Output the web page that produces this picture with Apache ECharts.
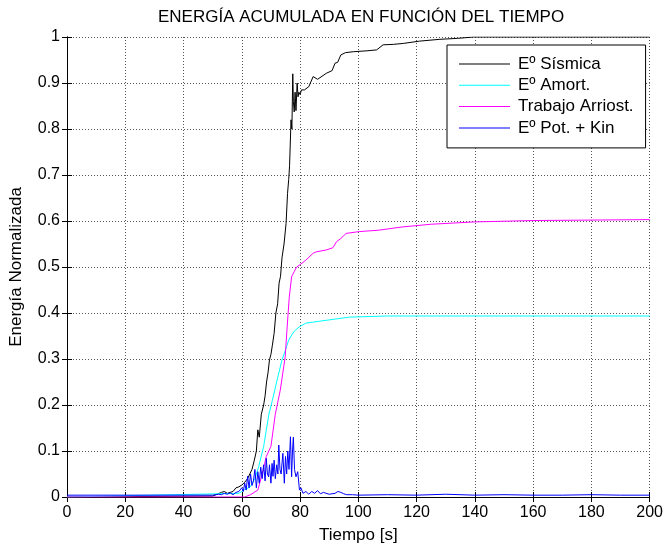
<!DOCTYPE html>
<html>
<head>
<meta charset="utf-8">
<script src="https://cdn.jsdelivr.net/npm/echarts@6/dist/echarts.min.js"></script>
<style>
  html, body { margin: 0; padding: 0; background: #fff; }
  #chart { width: 666px; height: 550px; }
</style>
</head>
<body>
<div id="chart"></div>
<script>
// series names
const names = ["Eº Sísmica", "Eº Amort.", "Trabajo Arriost.", "Eº Pot. + Kin"];

// Eº Sísmica
const sismicaT = [0, 50, 53, 54, 55, 56, 57, 58, 59, 60, 61, 62, 62.6, 63.5, 64.3, 65, 65.5, 66, 66.7, 67.5,
  68, 68.5, 69, 69.5, 70, 70.5, 71.1, 71.7, 72.3, 72.8, 73.3, 73.8, 74.5, 75.2, 75.7, 76.1, 76.4, 76.9, 77.2, 77.5,
  77.7, 78, 78.3, 78.6, 79, 79.3, 79.6, 80, 80.5, 81.5, 83, 84.5, 86, 89, 91, 92, 92.9, 94, 95.6, 98.3,
  103, 106.3, 108.5, 112, 115.4, 121, 128, 134, 139.5, 160, 200];
const sismicaV = [0, 0.002, 0.01, 0.012, 0.008, 0.01, 0.012, 0.02, 0.022, 0.026, 0.032, 0.04, 0.044, 0.06, 0.08, 0.1, 0.146, 0.13, 0.18, 0.2,
  0.22, 0.25, 0.27, 0.298, 0.31, 0.33, 0.356, 0.4, 0.42, 0.465, 0.48, 0.52, 0.55, 0.595, 0.66, 0.69, 0.72, 0.82, 0.8, 0.92,
  0.86, 0.837, 0.88, 0.84, 0.9, 0.87, 0.88, 0.875, 0.885, 0.885, 0.892, 0.914, 0.908, 0.921, 0.927, 0.943, 0.945, 0.961, 0.966, 0.968,
  0.97, 0.972, 0.983, 0.984, 0.986, 0.991, 0.995, 0.997, 1.0, 1.0, 1.0];

// Eº Amort.
const amortT = [0, 59, 61, 62.9, 64.5, 65.8, 67.5, 69.3, 70.5, 72.1, 73.8, 75, 76.1, 77.5, 78.4, 79.8, 82, 84.4, 86.6, 90, 92.3, 96.9, 110, 200];
const amortV = [0, 0.008, 0.016, 0.022, 0.04, 0.066, 0.11, 0.18, 0.21, 0.254, 0.298, 0.32, 0.341, 0.356, 0.363, 0.37, 0.378, 0.38, 0.382, 0.385, 0.387, 0.391, 0.3935, 0.3935];

// Trabajo Arriost.
const arriostT = [0, 61, 63, 65.5, 67, 68.4, 70, 71.5, 73.2, 74.9, 75.5, 76.3, 77.1, 78, 78.8, 80, 82, 84.5, 85.6, 89,
  91.3, 92.5, 94, 95.8, 100.3, 107, 115, 125, 140, 160, 200];
const arriostV = [0, 0, 0.005, 0.015, 0.05, 0.088, 0.11, 0.18, 0.232, 0.305, 0.363, 0.435, 0.479, 0.49, 0.5, 0.505, 0.515, 0.53, 0.533, 0.537,
  0.542, 0.555, 0.562, 0.573, 0.577, 0.58, 0.587, 0.593, 0.598, 0.601, 0.603];

// Eº Pot. + Kin
const potT = [0, 50, 52, 53, 54, 55, 56, 57, 58, 58.5, 59, 59.5, 60, 60.5, 61, 61.5, 62, 62.5, 63, 63.5,
  64, 64.5, 65, 65.5, 66, 66.5, 67, 67.5, 68, 68.4, 68.8, 69.2, 69.5, 70, 70.4, 70.7, 71.1, 71.5, 72, 72.4,
  72.7, 73.1, 73.5, 74.1, 74.6, 75, 75.4, 75.8, 76.2, 76.7, 77.1, 77.4, 77.7, 78.1, 78.6, 79.2, 79.8, 80.3, 81, 82,
  83, 84, 85, 86, 87, 88, 90, 92, 93, 94, 95, 96, 98, 100, 110, 120, 130, 140, 150, 160, 170, 180, 190, 200];
const potV = [0.004, 0.004, 0.006, 0.005, 0.008, 0.006, 0.009, 0.005, 0.01, 0.006, 0.012, 0.008, 0.02, 0.012, 0.03, 0.015, 0.045, 0.02, 0.05, 0.025,
  0.035, 0.06, 0.02, 0.055, 0.03, 0.065, 0.04, 0.07, 0.035, 0.084, 0.05, 0.044, 0.07, 0.03, 0.073, 0.045, 0.08, 0.04, 0.07, 0.05,
  0.113, 0.06, 0.05, 0.095, 0.03, 0.088, 0.05, 0.1, 0.06, 0.131, 0.044, 0.1, 0.13, 0.06, 0.044, 0.055, 0.015, 0.02, 0.008, 0.012,
  0.006, 0.012, 0.008, 0.014, 0.007, 0.01, 0.006, 0.008, 0.012, 0.01, 0.007, 0.005, 0.005, 0.004, 0.005, 0.004, 0.006, 0.004, 0.005, 0.004,
  0.004, 0.005, 0.004, 0.004];

const colors = ["#000000", "#00ffff", "#ff00ff", "#0000ff"];
const font = "Liberation Sans, Arial, sans-serif";

const zip = (t, v) => t.map((x, i) => [x, v[i]]);
const seriesData = [zip(sismicaT, sismicaV), zip(amortT, amortV), zip(arriostT, arriostV), zip(potT, potV)];

const gridLine = { show: true, lineStyle: { color: "#555", type: [1, 2], width: 1 } };
const frameAxis = {
  axisLine: { show: true, lineStyle: { color: "#000", width: 1 } },
  axisTick: { show: true, inside: true, length: 5, lineStyle: { color: "#000" } },
  axisLabel: { show: false },
  splitLine: { show: false }
};

const chart = echarts.init(document.getElementById("chart"));
chart.setOption({
  animation: false,
  backgroundColor: "#fff",
  title: {
    text: "ENERGÍA ACUMULADA EN FUNCIÓN DEL TIEMPO",
    left: 153,
    top: 4,
    textStyle: { fontFamily: font, fontSize: 17, fontWeight: "normal", color: "#000" }
  },
  legend: {
    orient: "vertical",
    left: 447,
    top: 45,
    padding: [10, 12, 11, 12],
    itemGap: 3.3,
    itemWidth: 51,
    itemHeight: 1,
    icon: "rect",
    backgroundColor: "#fff",
    borderColor: "#000",
    borderWidth: 1,
    borderRadius: 0,
    data: names,
    textStyle: { fontFamily: font, fontSize: 17, color: "#000", lineHeight: 18, padding: [0, 0, 0, 3] }
  },
  grid: { left: 67, right: 15, top: 37, bottom: 53 },
  xAxis: [
    {
      type: "value",
      min: 0, max: 200, interval: 20,
      name: "Tiempo [s]",
      nameLocation: "middle",
      nameGap: 30,
      nameTextStyle: { fontFamily: font, fontSize: 17, color: "#000" },
      axisLine: { show: true, lineStyle: { color: "#000", width: 1 } },
      axisTick: { show: true, inside: true, length: 5, lineStyle: { color: "#000" } },
      axisLabel: { fontFamily: font, fontSize: 16, color: "#000", margin: 8 },
      splitLine: gridLine
    },
    Object.assign({ type: "value", position: "top", min: 0, max: 200, interval: 20 }, frameAxis)
  ],
  yAxis: [
    {
      type: "value",
      min: 0, max: 1, interval: 0.1,
      name: "Energía Normalizada",
      nameLocation: "middle",
      nameGap: 42,
      nameTextStyle: { fontFamily: font, fontSize: 17, color: "#000" },
      axisLine: { show: true, lineStyle: { color: "#000", width: 1 } },
      axisTick: { show: true, inside: true, length: 5, lineStyle: { color: "#000" } },
      axisLabel: { fontFamily: font, fontSize: 16, color: "#000", margin: 7 },
      splitLine: gridLine
    },
    Object.assign({ type: "value", position: "right", min: 0, max: 1, interval: 0.1 }, frameAxis)
  ],
  series: names.map((n, i) => ({
    name: n,
    type: "line",
    data: seriesData[i],
    showSymbol: false,
    symbol: "none",
    color: colors[i],
    lineStyle: { color: colors[i], width: 1 },
    z: 2 + i
  }))
});
</script>
</body>
</html>
